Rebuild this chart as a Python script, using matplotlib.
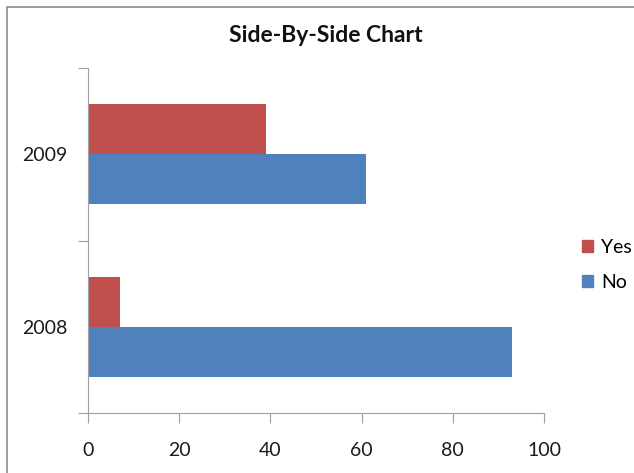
import matplotlib
matplotlib.use("Agg")
import matplotlib.pyplot as plt
from matplotlib.patches import Rectangle

categories = ["2008", "2009"]
yes_vals = [7, 39]
no_vals = [93, 61]
xticks = [0, 20, 40, 60, 80, 100]

plt.rcParams['font.family'] = ['Lato', 'DejaVu Sans']

W, H = 634, 473
fig = plt.figure(figsize=(W / 100, H / 100), dpi=100)
fig.patch.set_facecolor("white")

# chart area border
fig.add_artist(Rectangle((7 / W, -0.05), 1.1, (H - 7) / H + 0.05, transform=fig.transFigure,
                         fill=False, edgecolor="#8c8c8c", linewidth=1.2))

ax = fig.add_axes([88 / W, (H - 413) / H, (544 - 88) / W, (413 - 68) / H])
pos = list(range(len(categories)))
h = 0.29
ax.barh([p + h / 2 for p in pos], yes_vals, height=h, color="#C0504D", label="Yes")
ax.barh([p - h / 2 for p in pos], no_vals, height=h, color="#4F81BD", label="No")

fs = 14
ax.set_xlim(0, 100)
ax.set_ylim(-0.5, 1.5)
ax.set_xticks(xticks)
ax.set_xticklabels([str(t) for t in xticks], fontsize=fs, color="#1a1a1a")
ax.set_yticks([-0.5, 0.5, 1.5], minor=False)
ax.set_yticklabels([])
ax.set_yticks(pos, minor=True)
ax.set_yticklabels(categories, minor=True, fontsize=fs, color="#1a1a1a")
ax.tick_params(axis="y", which="minor", length=0, pad=15)
ax.tick_params(axis="y", which="major", length=7, color="#a0a0a0")
ax.tick_params(axis="x", length=7, color="#a0a0a0", pad=14)
for s in ["top", "right"]:
    ax.spines[s].set_visible(False)
for s in ["left", "bottom"]:
    ax.spines[s].set_color("#a0a0a0")

fig.text(326 / W, 1 - 36 / H, "Side-By-Side Chart", ha="center", va="center",
         fontsize=16.5, fontweight="bold", color="#111111")

handles = [Rectangle((0, 0), 1, 1, color="#C0504D"), Rectangle((0, 0), 1, 1, color="#4F81BD")]
fig.legend(handles, ["Yes", "No"], loc="center left", bbox_to_anchor=(582 / W, 1 - 265 / H),
           frameon=False, fontsize=fs, handlelength=0.55, handleheight=0.55,
           handletextpad=0.45, labelspacing=0.95, borderpad=0, borderaxespad=0)

fig.savefig("out.png", dpi=100)
